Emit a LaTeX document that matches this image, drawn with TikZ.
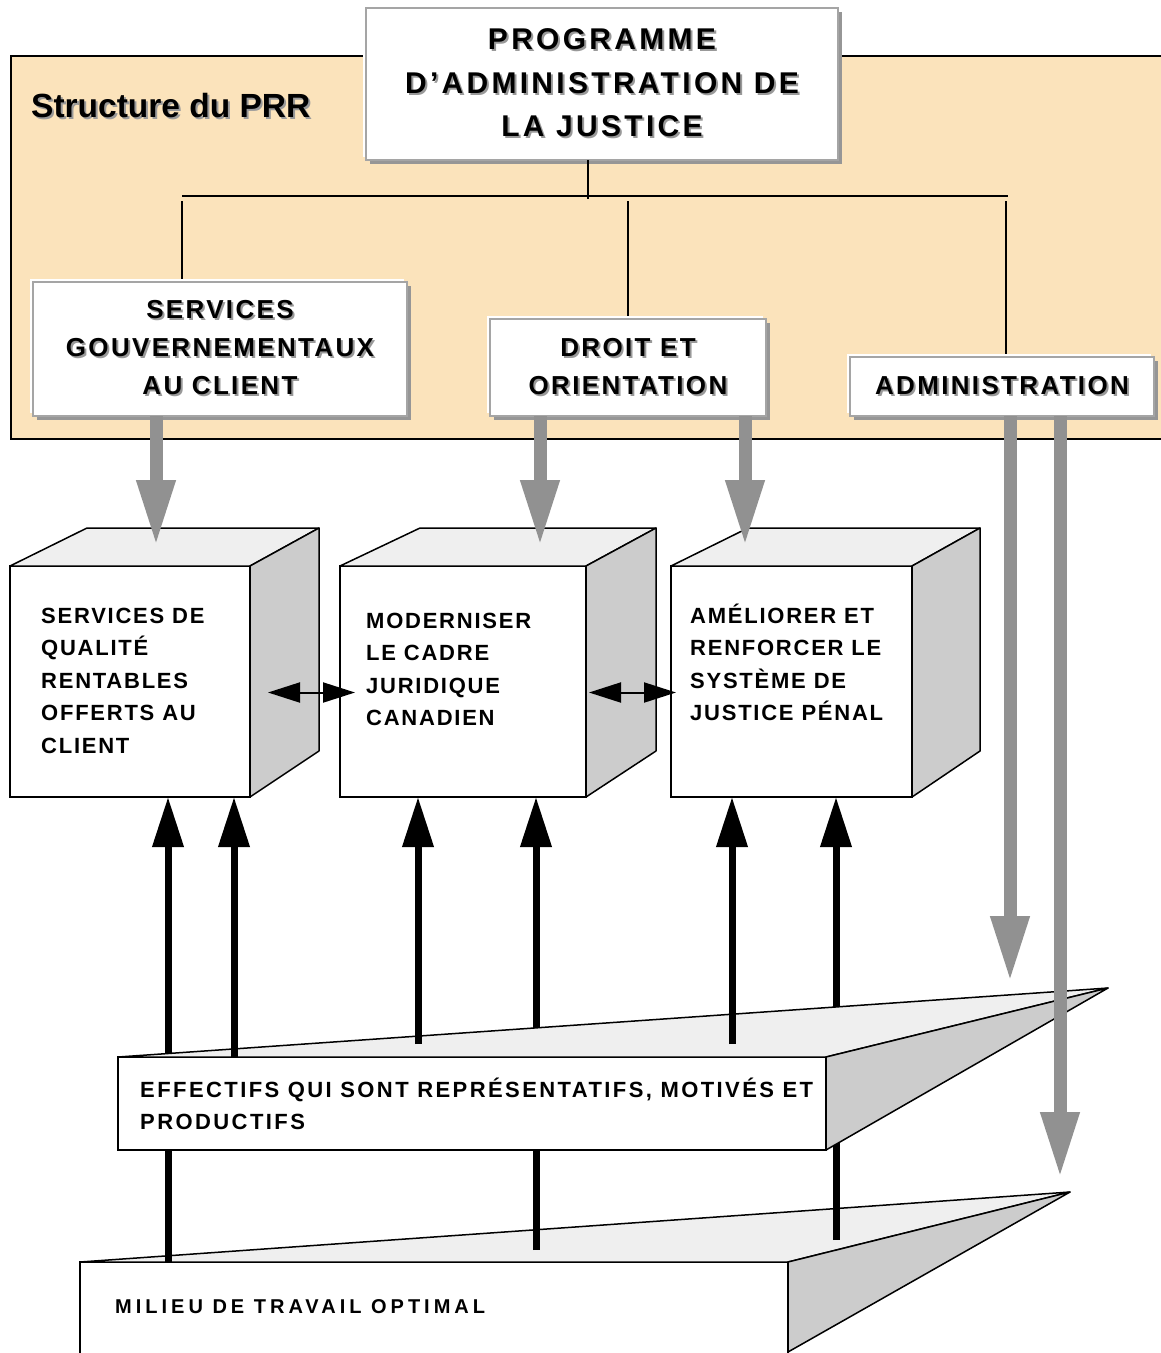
\documentclass[tikz,border=0pt]{standalone}
\usepackage{fontspec}
\setmainfont{Liberation Sans}
\newfontfamily\fTop[LetterSpace=11]{Liberation Sans}
\newfontfamily\fBox[LetterSpace=9]{Liberation Sans}
\newfontfamily\fCube[LetterSpace=8]{Liberation Sans}
\newfontfamily\fMid[LetterSpace=11]{Liberation Sans}
\newfontfamily\fLow[LetterSpace=20]{Liberation Sans}
\usetikzlibrary{arrows.meta,calc}
\definecolor{prrtan}{RGB}{251,227,187}
\definecolor{arrgray}{RGB}{145,145,145}
\definecolor{bordgray}{RGB}{165,165,165}
\definecolor{shgray}{RGB}{150,150,150}
\definecolor{topf}{RGB}{239,239,239}
\definecolor{sidef}{RGB}{204,204,204}
\newcommand\shd[1]{\leavevmode\rlap{\kern2pt\raisebox{-2pt}{\color{black!40}#1}}#1}
\tikzset{
  orgbox/.style={draw=bordgray, line width=1.2pt, fill=white, inner sep=0pt, outer sep=0pt,
    anchor=north west, align=center,
    preaction={fill=white, transform canvas={shift={(-3pt,3pt)}}},
    preaction={fill=shgray, transform canvas={shift={(4pt,-4pt)}}}},
  conn/.style={line width=1.5pt},
  cubefront/.style={draw, line width=1.5pt, fill=white, inner sep=0pt, outer sep=0pt, anchor=north west},
  face/.style={draw, line width=1.5pt, line join=round},
  cubetxt/.style={anchor=north west, inner sep=0pt, align=left,
    font=\fCube\bfseries\fontsize{22}{32.5}\selectfont},
  blk/.style={line width=7pt, -{Triangle[length=50pt,width=30pt]}},
  gry/.style={draw=arrgray, line width=13pt, -{Triangle[length=66pt,width=36pt]}},
  dbl/.style={line width=2pt, {Triangle[length=32pt,width=20pt]}-{Triangle[length=32pt,width=20pt]}}
}
\begin{document}
\begin{tikzpicture}[x=1pt,y=-1pt]
\useasboundingbox (0,0) rectangle (1161,1353);
\clip (0,0) rectangle (1161,1353);
\fill[white] (0,0) rectangle (1161,1353);

% background group
\node[draw=black, line width=2pt, fill=prrtan, minimum width=1180pt, minimum height=383pt,
  anchor=north west, inner sep=0pt, outer sep=0pt] (prr) at (11,56) {};
\node[anchor=base west, inner sep=0pt, font=\bfseries\fontsize{33.5}{38}\selectfont] (title) at (31,117) {\shd{Structure du PRR}};

% org boxes
\node[orgbox, minimum width=472pt, minimum height=152pt, font=\fTop\bfseries\fontsize{30}{43.5}\selectfont]
  (prog) at (366,8) {\shd{PROGRAMME}\\\shd{D’ADMINISTRATION DE}\\\shd{LA JUSTICE}};
\node[orgbox, minimum width=374pt, minimum height=134pt, font=\fBox\bfseries\fontsize{26}{38}\selectfont]
  (b1) at (33,282) {\shd{SERVICES}\\\shd{GOUVERNEMENTAUX}\\\shd{AU CLIENT}};
\node[orgbox, minimum width=276pt, minimum height=97pt, font=\fBox\bfseries\fontsize{26}{37.5}\selectfont]
  (b2) at (490,319) {\shd{DROIT ET}\\\shd{ORIENTATION}};
\node[orgbox, minimum width=304pt, minimum height=59pt, font=\fBox\bfseries\fontsize{26}{37.5}\selectfont]
  (b3) at (850,357) {\shd{ADMINISTRATION}};

% org connectors
\coordinate (bus) at (588,196);
\coordinate (busL) at (182,196);
\coordinate (busR) at (1006,196);
\draw[conn] (prog.south -| bus) -- ($(bus)+(0,3)$);
\draw[conn] (busL) -- ($(busR)+(2,0)$);
\draw[conn] ($(busL)+(0,5)$) -- ($(b1.north -| busL)+(0,-3)$);
\draw[conn] ($(b2.north |- bus)+(0,5)$) -- ($(b2.north)+(0,-3)$);
\draw[conn] ($(busR)+(0,5)$) -- ($(b3.north -| busR)+(0,-3)$);

% bottom slab
\node[cubefront, minimum width=708pt, minimum height=120pt] (s2) at (80,1262) {};
\filldraw[face, fill=topf] (s2.north west) -- ($(s2.north east)+(282,-70)$) -- (s2.north east) -- cycle;
\filldraw[face, fill=sidef] (s2.north east) -- ++(282,-70) -- ($(s2.north east)+(0,90)$) -- cycle;
\node[anchor=north west, inner sep=0pt, font=\fLow\bfseries\fontsize{20}{30}\selectfont]
  (st2) at (115,1294) {\rule{0pt}{19pt}MILIEU DE TRAVAIL OPTIMAL};

% cubes (front faces, needed for arrow targets)
\node[cubefront, minimum width=240pt, minimum height=231pt] (c1) at (10,566) {};
\node[cubefront, minimum width=246pt, minimum height=231pt] (c2) at (340,566) {};
\node[cubefront, minimum width=241pt, minimum height=231pt] (c3) at (671,566) {};

% black arrows behind the middle slab
\coordinate (a1) at (168,1262);
\coordinate (a4) at (536,1250);
\coordinate (a6) at (836,1240);
\draw[blk] (a1) -- (a1 |- c1.south);
\draw[blk] (a4) -- (a4 |- c2.south);
\draw[blk] (a6) -- (a6 |- c3.south);

% middle slab
\node[cubefront, minimum width=708pt, minimum height=93pt] (s1) at (118,1057) {};
\filldraw[face, fill=topf] (s1.north west) -- ($(s1.north east)+(282,-69)$) -- (s1.north east) -- cycle;
\filldraw[face, fill=sidef] (s1.north east) -- ++(282,-69) -- (s1.south east) -- cycle;
\node[anchor=north west, inner sep=0pt, align=left, font=\fMid\bfseries\fontsize{22}{32}\selectfont]
  (st1) at (140,1077) {\rule{0pt}{20pt}EFFECTIFS QUI SONT REPRÉSENTATIFS, MOTIVÉS ET\\PRODUCTIFS};

% black arrows in front of the middle slab
\coordinate (a2) at (234,1057);
\coordinate (a3) at (418,1044);
\coordinate (a5) at (732,1044);
\draw[blk] (a2) -- (a2 |- c1.south);
\draw[blk] (a3) -- (a3 |- c2.south);
\draw[blk] (a5) -- (a5 |- c3.south);

% cube faces
\filldraw[face, fill=topf] (c1.north west) -- ++(77,-38) -- ($(c1.north east)+(69,-38)$) -- (c1.north east) -- cycle;
\filldraw[face, fill=sidef] (c1.north east) -- ++(69,-38) -- ($(c1.south east)+(69,-46)$) -- (c1.south east) -- cycle;
\filldraw[face, fill=topf] (c2.north west) -- ++(80,-38) -- ($(c2.north east)+(70,-38)$) -- (c2.north east) -- cycle;
\filldraw[face, fill=sidef] (c2.north east) -- ++(70,-38) -- ($(c2.south east)+(70,-46)$) -- (c2.south east) -- cycle;
\filldraw[face, fill=topf] (c3.north west) -- ++(77,-38) -- ($(c3.north east)+(68,-38)$) -- (c3.north east) -- cycle;
\filldraw[face, fill=sidef] (c3.north east) -- ++(68,-38) -- ($(c3.south east)+(68,-46)$) -- (c3.south east) -- cycle;

\node[cubetxt] (t1) at (41,603) {\rule{0pt}{20pt}SERVICES DE\\QUALITÉ\\RENTABLES\\OFFERTS AU\\CLIENT};
\node[cubetxt] (t2) at (366,608) {\rule{0pt}{20pt}MODERNISER\\LE CADRE\\JURIDIQUE\\CANADIEN};
\node[cubetxt] (t3) at (690,603) {\rule{0pt}{20pt}AMÉLIORER ET\\RENFORCER LE\\SYSTÈME DE\\JUSTICE PÉNAL};

% gray arrows
\coordinate (g1) at (156,546);
\coordinate (g2) at (540,546);
\coordinate (g3) at (745,546);
\coordinate (g4) at (1010,982);
\coordinate (g5) at (1060,1178);
\draw[gry] (b1.south -| g1) -- (g1);
\draw[gry] (b2.south -| g2) -- (g2);
\draw[gry] (b2.south -| g3) -- (g3);
\draw[gry] (b3.south -| g4) -- (g4);
\draw[gry] (b3.south -| g5) -- (g5);

% double arrows between cubes
\draw[dbl] ($(c1.east)+(18,11)$) -- ($(c2.west)+(15,11)$);
\draw[dbl] ($(c2.east)+(3,11)$) -- ($(c3.west)+(5,11)$);
\end{tikzpicture}
\end{document}
